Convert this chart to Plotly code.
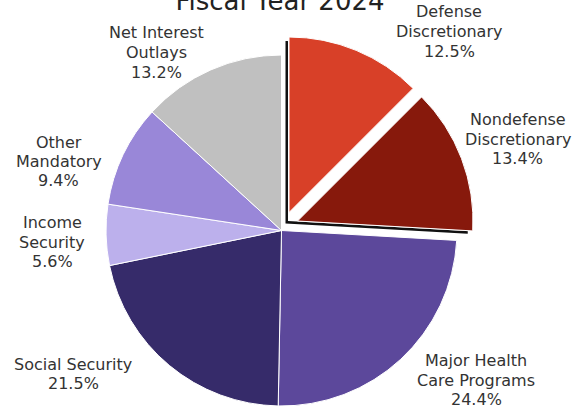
import plotly.graph_objects as go

# Federal outlays by category, fiscal year 2024 (percent of total)
categories = [
    "Defense<br>Discretionary",
    "Nondefense<br>Discretionary",
    "Major Health<br>Care Programs",
    "Social Security",
    "Income<br>Security",
    "Other<br>Mandatory",
    "Net Interest<br>Outlays",
]
shares = [12.5, 13.4, 24.4, 21.5, 5.6, 9.4, 13.2]
colors = ["#D84028", "#87190C", "#5C489B", "#362B6A", "#BCB0EC", "#9987D8", "#C0C0C0"]

DISCRETIONARY = [0, 1]          # slices pulled out of the main pie
CLEAR = "rgba(0,0,0,0)"

W, H = 585, 406
FONT = "DejaVu Sans, Verdana, sans-serif"
TEXT_COLOR = "#333333"
LABEL_SIZE = 16
LINE_STEP = 19.5                # pixel distance between label lines

# Pixel centre of each slice's label block (same order as categories)
label_centres = [(449, 31.5), (517.5, 139), (476, 380), (73, 374),
                 (52, 242.3), (58.5, 161.5), (156, 52.5)]


def domain(cx, cy, r):
    """Square pie domain (paper fractions) centred at pixel (cx, cy) with radius r."""
    return dict(
        x=[max(0.0, (cx - r) / W), min(1.0, (cx + r) / W)],
        y=[max(0.0, (H - cy - r) / H), min(1.0, (H - cy + r) / H)],
    )


def slice_trace(show, dom):
    """Full pie where only the slices in `show` are painted."""
    n = len(shares)
    return go.Pie(
        values=shares,
        labels=[c.replace("<br>", " ") for c in categories],
        sort=False,
        direction="clockwise",
        rotation=0,
        domain=dom,
        marker=dict(
            colors=[colors[i] if i in show else CLEAR for i in range(n)],
            line=dict(
                color="white",
                width=[1 if i in show else 0 for i in range(n)],
            ),
        ),
        textinfo="none",
        hoverinfo="skip",
        showlegend=False,
    )


# The discretionary group as one wedge, used for the dark outline behind it
group_values = [sum(shares[i] for i in DISCRETIONARY),
                sum(v for i, v in enumerate(shares) if i not in DISCRETIONARY)]


def group_trace(fill, dom):
    return go.Pie(
        values=group_values,
        sort=False,
        direction="clockwise",
        rotation=0,
        domain=dom,
        marker=dict(colors=[fill, CLEAR], line=dict(width=0)),
        textinfo="none",
        hoverinfo="skip",
        showlegend=False,
    )


R = 175.5
fig = go.Figure()
fig.add_trace(group_trace("#111111", domain(285.5, 223.5, 182.5)))
fig.add_trace(group_trace("white", domain(288.0, 221.0, 182.5)))
fig.add_trace(slice_trace([2, 3, 4, 5, 6], domain(281.5, 230.5, R)))
fig.add_trace(slice_trace([0], domain(289.0, 212.5, R)))
fig.add_trace(slice_trace([1], domain(297.5, 221.0, R)))

# Slice labels: name lines followed by the percentage, one annotation per line
annotations = []
for name, value, (lx, ly) in zip(categories, shares, label_centres):
    lines = name.split("<br>") + [f"{value}%"]
    top = ly - LINE_STEP * (len(lines) - 1) / 2
    for k, line in enumerate(lines):
        annotations.append(dict(
            text=line,
            x=lx / W,
            y=1 - (top + k * LINE_STEP) / H,
            xref="paper",
            yref="paper",
            xanchor="center",
            yanchor="middle",
            showarrow=False,
            font=dict(family=FONT, size=LABEL_SIZE, color=TEXT_COLOR),
        ))

fig.update_layout(
    width=W,
    height=H,
    autosize=False,
    showlegend=False,
    margin=dict(l=0, r=0, t=0, b=0, pad=0, autoexpand=False),
    paper_bgcolor="white",
    plot_bgcolor="white",
    font=dict(family=FONT, size=16, color=TEXT_COLOR),
    annotations=annotations,
    title=dict(
        text="Fiscal Year 2024",
        x=280 / W,
        xanchor="center",
        y=(H - 10) / H,
        yanchor="bottom",
        yref="container",
        automargin=False,
        font=dict(family=FONT, size=26, color="#222222"),
    ),
)

fig.write_html("out.html")
